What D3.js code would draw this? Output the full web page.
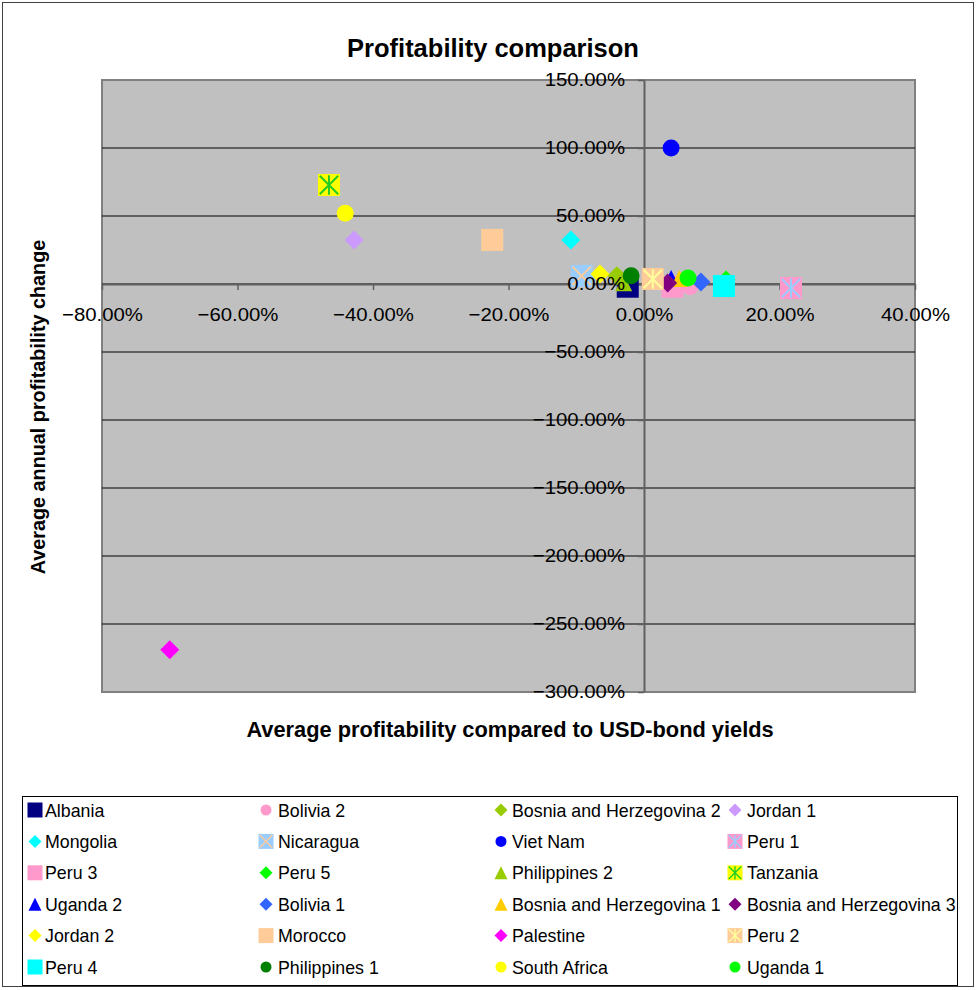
<!DOCTYPE html>
<html><head><meta charset="utf-8">
<script src="https://cdn.jsdelivr.net/npm/d3@7"></script>
<style>body{margin:0;background:#fff}svg{display:block;font-family:"Liberation Sans",Arial,sans-serif}</style>
</head><body><svg id="c" width="976" height="990"></svg>
<script>
const categories = ["Albania","Bolivia 2","Bosnia and Herzegovina 2","Jordan 1","Mongolia","Nicaragua","Viet Nam","Peru 1","Peru 3","Peru 5","Philippines 2","Tanzania","Uganda 2","Bolivia 1","Bosnia and Herzegovina 1","Bosnia and Herzegovina 3","Jordan 2","Morocco","Palestine","Peru 2","Peru 4","Philippines 1","South Africa","Uganda 1"];
const xValues = [-0.024,0.068,-0.040,-0.428,-0.108,-0.092,0.040,0.217,0.042,0.121,-0.030,-0.465,0.040,0.084,0.052,0.035,-0.065,-0.224,-0.700,0.013,0.118,-0.019,-0.441,0.065];
const yValues = [-0.02,-0.02,0.06,0.324,0.324,0.06,1.00,-0.03,-0.02,0.03,0.01,0.728,0.04,0.015,0.04,0.007,0.074,0.324,-2.69,0.037,-0.015,0.06,0.52,0.044];
const xTicks = [-0.8,-0.6,-0.4,-0.2,0,0.2,0.4];
const yTicks = [1.5,1.0,0.5,0,-0.5,-1.0,-1.5,-2.0,-2.5,-3.0];

// marker styles (shape, fill, overlay colour)
const styles = [
 ["square","#000080"],["circle","#FF99CC"],["diamond","#99CC00"],["diamond","#CC99FF"],
 ["diamond","#00FFFF"],["xsquare","#99CCFF","#FFCC99"],["circle","#0000FF"],["star","#FF99CC","#99CCFF"],
 ["square","#FF99CC"],["diamond","#00FF00"],["triangle","#99CC00"],["star","#FFFF00","#22CC22"],
 ["triangle","#0000FF"],["diamond","#3366FF"],["triangle","#FFCC00"],["diamond","#800080"],
 ["diamond","#FFFF00"],["square","#FFCC99"],["diamond","#FF00FF"],["star","#FFCC99","#FFFF99"],
 ["square","#00FFFF"],["circle","#008000"],["circle","#FFFF00"],["circle","#00FF00"]
];

const svg = d3.select("#c");
const fmt = d3.format(".2%");
const L=102,R=915,T=80,B=692;
const x = d3.scaleLinear().domain([-0.8,0.4]).range([L,R]);
const y = d3.scaleLinear().domain([1.5,-3]).range([T,B]);

svg.append("rect").attr("x",2.5).attr("y",2.5).attr("width",971).attr("height",984)
  .attr("fill","#fff").attr("stroke","#404040").attr("stroke-width",1);

svg.append("rect").attr("x",L).attr("y",T).attr("width",R-L).attr("height",B-T)
  .attr("fill","#C0C0C0").attr("stroke","#808080").attr("stroke-width",2);

// gridlines
svg.append("g").selectAll("line").data(yTicks.filter(v=>v!==1.5&&v!==-3)).join("line")
  .attr("x1",L).attr("x2",R).attr("y1",d=>y(d)).attr("y2",d=>y(d))
  .attr("stroke","#000").attr("stroke-width",1);

function drawMarker(g, st, s){
  const [shape, fill, over] = st;
  if(shape==="square"||shape==="xsquare"||shape==="star"){
    g.append("rect").attr("x",-s/2).attr("y",-s/2).attr("width",s).attr("height",s).attr("fill",fill);
    const h=s*0.42;
    if(shape==="xsquare"){
      g.append("path").attr("d",`M${-h},${-h}L${h},${h}M${-h},${h}L${h},${-h}`).attr("stroke",over).attr("stroke-width",s*0.09);
    }
    if(shape==="star"){
      g.append("path").attr("d",`M${-h},${-h}L${h},${h}M${-h},${h}L${h},${-h}M0,${-h*1.05}L0,${h*1.05}`).attr("stroke",over).attr("stroke-width",s*0.09);
    }
  } else if(shape==="circle"){
    g.append("circle").attr("r",s*0.5).attr("fill",fill);
  } else if(shape==="diamond"){
    const h=s*0.5;
    g.append("path").attr("d",`M0,${-h}L${h},0L0,${h}L${-h},0Z`).attr("fill",fill);
  } else if(shape==="triangle"){
    const h=s*0.5;
    g.append("path").attr("d",`M0,${-h}L${h},${h}L${-h},${h}Z`).attr("fill",fill);
  }
}
const sizeFor = {square:22,xsquare:22,star:22,circle:17,diamond:19,triangle:17};

// axis lines (under points)
const gx = svg.append("g").attr("transform",`translate(0,${y(0)})`)
  .call(d3.axisBottom(x).tickValues(xTicks).tickFormat(fmt).tickSize(6).tickPadding(15).tickSizeOuter(0));
gx.select(".domain").attr("stroke","#606060").attr("stroke-width",2);
gx.selectAll(".tick line").attr("stroke","#606060").attr("stroke-width",1.5);
gx.selectAll("text").remove();
const gy = svg.append("g").attr("transform",`translate(${x(0)},0)`)
  .call(d3.axisLeft(y).tickValues(yTicks).tickFormat(fmt).tickSize(6).tickPadding(13).tickSizeOuter(0));
gy.select(".domain").attr("stroke","#606060").attr("stroke-width",2);
gy.selectAll(".tick line").attr("stroke","#606060").attr("stroke-width",1.5);
gy.selectAll("text").remove();

// points
const pts = svg.append("g");
categories.forEach((c,i)=>{
  const g = pts.append("g").attr("transform",`translate(${x(xValues[i])},${y(yValues[i])})`);
  drawMarker(g, styles[i], sizeFor[styles[i][0]]);
});

// tick labels on top of points
const sx = 1.1;
svg.append("g").attr("transform",`translate(0,${y(0)})`)
  .call(d3.axisBottom(x).tickValues(xTicks).tickFormat(fmt).tickSize(0).tickPadding(24).tickSizeOuter(0))
  .call(g=>{g.select(".domain").remove();
    g.selectAll("text").attr("font-size",18.5).attr("fill","#000").attr("font-family","Liberation Sans, Arial, sans-serif")
     .attr("transform",`scale(${sx},1)`);});
svg.append("g").attr("transform",`translate(${x(0)},0)`)
  .call(d3.axisLeft(y).tickValues(yTicks).tickFormat(fmt).tickSize(0).tickPadding(19).tickSizeOuter(0))
  .call(g=>{g.select(".domain").remove();
    g.selectAll("text").attr("font-size",18.5).attr("fill","#000").attr("font-family","Liberation Sans, Arial, sans-serif")
     .attr("x",-19/sx).attr("transform",`scale(${sx},1)`);});

// titles
svg.append("text").attr("x",493).attr("y",57).attr("text-anchor","middle").attr("font-weight","bold")
  .attr("font-size",25.5).text("Profitability comparison");
svg.append("text").attr("x",510).attr("y",737).attr("text-anchor","middle").attr("font-weight","bold")
  .attr("font-size",21.8).text("Average profitability compared to USD-bond yields");
svg.append("text").attr("transform","translate(45,407) rotate(-90)").attr("text-anchor","middle").attr("font-weight","bold")
  .attr("font-size",19.8).text("Average annual profitability change");

// legend
svg.append("rect").attr("x",22.5).attr("y",796.5).attr("width",935).attr("height",189)
  .attr("fill","#fff").attr("stroke","#000").attr("stroke-width",1);
const colMarker=[35,266,501,735], colText=[45,278,512,747];
const legSize = {square:15,xsquare:15,star:15,circle:11,diamond:13,triangle:13};
categories.forEach((c,i)=>{
  const col=i%4, row=Math.floor(i/4);
  const cy = 810 + row*31.4;
  const g = svg.append("g").attr("transform",`translate(${colMarker[col]},${cy})`);
  drawMarker(g, styles[i], legSize[styles[i][0]]);
  svg.append("text").attr("x",colText[col]).attr("y",cy+6.5).attr("font-size",17.8).text(c);
});
</script></body></html>
